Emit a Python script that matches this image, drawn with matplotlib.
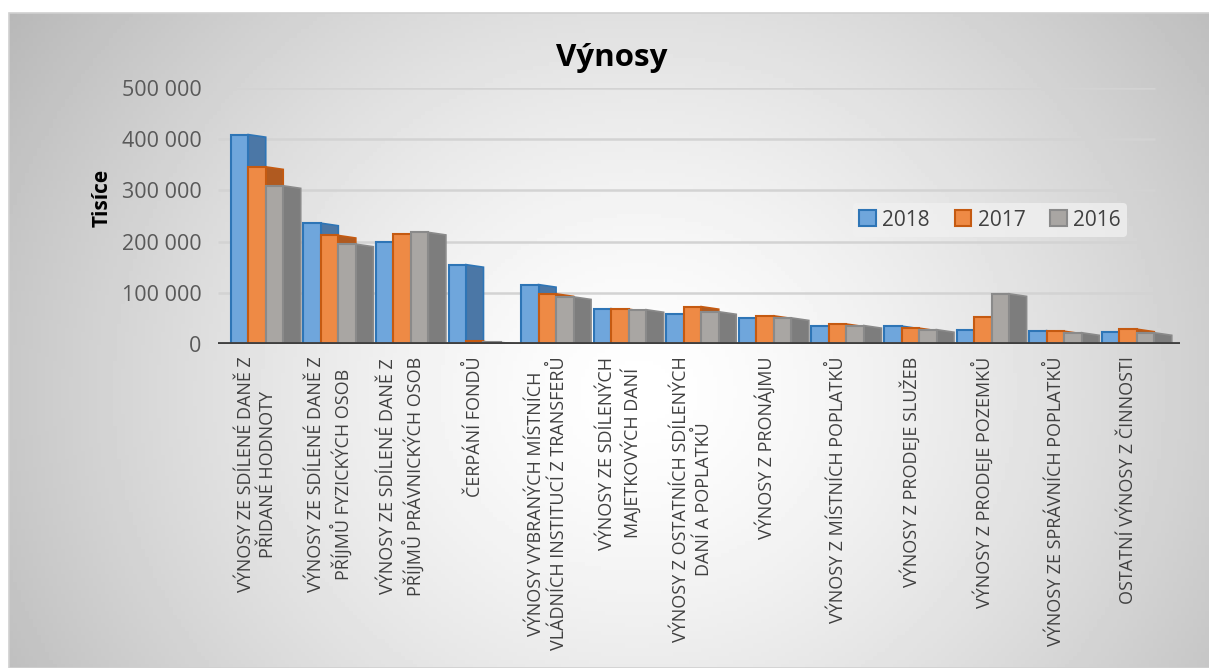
import numpy as np
import matplotlib.pyplot as plt
from matplotlib.patches import Polygon, Rectangle

plt.rcParams['font.family'] = ['Open Sans', 'DejaVu Sans']

kategorie = [
    "VÝNOSY ZE SDÍLENÉ DANĚ Z\nPŘIDANÉ HODNOTY",
    "VÝNOSY ZE SDÍLENÉ DANĚ Z\nPŘÍJMŮ FYZICKÝCH OSOB",
    "VÝNOSY ZE SDÍLENÉ DANĚ Z\nPŘÍJMŮ PRÁVNICKÝCH OSOB",
    "ČERPÁNÍ FONDŮ",
    "VÝNOSY VYBRANÝCH MÍSTNÍCH\nVLÁDNÍCH INSTITUCÍ Z TRANSFERŮ",
    "VÝNOSY ZE SDÍLENÝCH\nMAJETKOVÝCH DANÍ",
    "VÝNOSY Z OSTATNÍCH SDÍLENÝCH\nDANÍ A POPLATKŮ",
    "VÝNOSY Z PRONÁJMU",
    "VÝNOSY Z MÍSTNÍCH POPLATKŮ",
    "VÝNOSY Z PRODEJE SLUŽEB",
    "VÝNOSY Z PRODEJE POZEMKŮ",
    "VÝNOSY ZE SPRÁVNÍCH POPLATKŮ",
    "OSTATNÍ VÝNOSY Z ČINNOSTI",
]
roky = ["2018", "2017", "2016"]
v2018 = [409000, 236000, 199000, 155000, 116000, 69000, 59000, 51000, 35000, 35000, 27000, 26000, 24000]
v2017 = [346000, 212000, 215000, 5000, 98000, 68000, 73000, 55000, 39000, 31000, 53000, 25000, 29000]
v2016 = [309000, 195000, 218000, 3000, 92000, 67000, 63000, 51000, 36000, 28000, 98000, 22000, 22000]
y_ticks = [0, 100000, 200000, 300000, 400000, 500000]

# barvy: predni stena, okraj, bocni stena
barvy = [
    ("#6fa6dc", "#2e75b6", "#4b77a6"),
    ("#ee8a45", "#c55a11", "#b05a20"),
    ("#a9a6a3", "#8a8a8a", "#7d7d7d"),
]

fig = plt.figure(figsize=(12.09, 6.68), dpi=100)

# pozadi s radialnim prechodem
bg = fig.add_axes([9 / 1209, 0, 1 - 9 / 1209, 1 - 13 / 668], zorder=-5)
gx, gy = np.meshgrid(np.linspace(0, 1200, 300), np.linspace(0, 655, 160))
r = np.sqrt((gx - 630) ** 2 + ((gy - 380) / 0.9) ** 2) / 680
val = 1.0 - 0.24 * np.clip(r, 0, 1.2) ** 1.4
bg.imshow(val, cmap='gray', vmin=0, vmax=1, aspect='auto', extent=[0, 1, 0, 1], origin='upper')
bg.set_axis_off()
fig.patches.append(Rectangle((9 / 1209, 0), 1, 1 - 13 / 668, transform=fig.transFigure,
                             fill=False, edgecolor="#d0d0d0", lw=1.2, zorder=-4))

ax = fig.add_axes([218 / 1209, 1 - 344 / 668, (1180 - 218) / 1209, (344 - 88) / 668])
ax.patch.set_alpha(0)
x = np.arange(len(kategorie))
w = 0.241
xlim = (-0.537, 12.716)
ax.set_xlim(*xlim)
ax.set_ylim(0, 500000)

ax.hlines(y_ticks[1:], xlim[0], 12.37, color="#d3d3d3", lw=1.8, zorder=0)

dz = 5000
for k, hodnoty in enumerate([v2018, v2017, v2016]):
    fc, ec, sc = barvy[k]
    pos = x + (k - 1) * w
    ax.bar(pos, hodnoty, width=w, color=fc, edgecolor=ec, lw=1.5, zorder=2 + k,
           label=roky[k])
    for p, h in zip(pos, hodnoty):
        x1 = p + w / 2
        side = Polygon([(x1, 0), (x1 + w, 0), (x1 + w, max(h - dz, 0)), (x1, h)],
                       closed=True, facecolor=sc, edgecolor=ec, lw=1.2, zorder=1.9 + k)
        ax.add_patch(side)

ax.axhline(0, color="#404040", lw=3.5, zorder=10, xmin=0, xmax=1)

ax.set_yticks(y_ticks)
ax.set_yticklabels([f"{v:,}".replace(",", " ") for v in y_ticks], fontsize=15.5, color="#595959")
ax.set_xticks(x)
ax.set_xticklabels(kategorie, rotation=90, fontsize=13, color="#404040",
                   multialignment='center', linespacing=1.3)
ax.tick_params(length=0)
ax.tick_params(axis='y', pad=12)
ax.tick_params(axis='x', pad=9)
for s in ax.spines.values():
    s.set_visible(False)

ax.set_ylabel("Tisíce", fontsize=15, fontweight='bold', color="#000000")
ax.yaxis.set_label_coords(-0.11, 0.57)

fig.text(0.506, 1 - 58 / 668, "Výnosy", fontsize=22.5, fontweight='bold', ha='center', va='center')

leg = ax.legend(loc='center', bbox_to_anchor=((990 - 218) / 962, (344 - 220) / 256),
                ncol=3, fontsize=15, frameon=True, handlelength=0.8, handleheight=0.8,
                handletextpad=0.3, columnspacing=1.2, borderpad=0.3)
leg.get_frame().set_facecolor("#f0f0f0")
leg.get_frame().set_edgecolor("none")
leg.get_frame().set_alpha(0.8)
for t in leg.get_texts():
    t.set_color("#404040")

fig.savefig("out.png", dpi=100)
